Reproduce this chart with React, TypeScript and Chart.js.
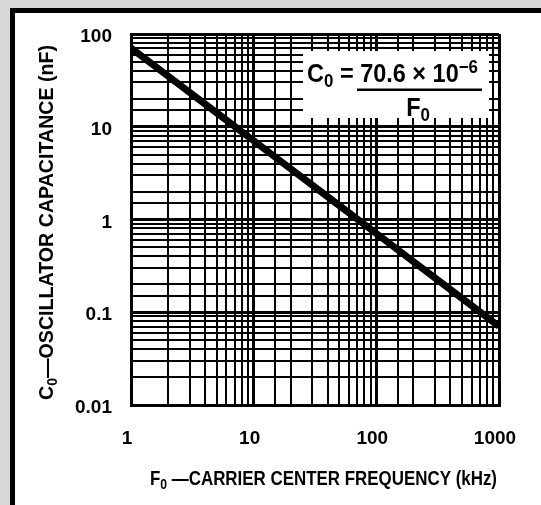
import React, { useEffect, useRef } from 'react';
import { Chart, registerables } from 'chart.js';

Chart.register(...registerables);

// ---- data ----
const frequencyKHz = [1, 2, 5, 10, 20, 50, 100, 200, 500, 1000];
const capacitanceNF = [70.6, 35.3, 14.1, 7.06, 3.53, 1.41, 0.706, 0.353, 0.141, 0.0706];

const xTickValues = [1, 10, 100, 1000];
const xTickLabels = ['1', '10', '100', '1000'];
const yTickValues = [0.01, 0.1, 1, 10, 100];
const yTickLabels = ['0.01', '0.1', '1', '10', '100'];

type Seg = { t: string; k?: 'sub' | 'sup' };
const xTitleSegs: Seg[] = [{ t: 'F' }, { t: '0', k: 'sub' }, { t: ' —CARRIER CENTER FREQUENCY (kHz)' }];
const yTitleSegs: Seg[] = [{ t: 'C' }, { t: '0', k: 'sub' }, { t: '—OSCILLATOR CAPACITANCE (nF)' }];
const formulaNumSegs: Seg[] = [{ t: 'C' }, { t: '0', k: 'sub' }, { t: ' = 70.6 × 10' }, { t: '−6', k: 'sup' }];
const formulaDenSegs: Seg[] = [{ t: 'F' }, { t: '0', k: 'sub' }];

const FONT = "'Liberation Sans', Arial, sans-serif";

function findLabel(values: number[], labels: string[], v: number): string {
  const i = values.findIndex((a) => Math.abs(a - v) / a < 1e-6);
  return i >= 0 ? labels[i] : '';
}

function segWidth(ctx: CanvasRenderingContext2D, segs: Seg[], size: number): number {
  let w = 0;
  for (const s of segs) {
    const fs = s.k ? size * 0.72 : size;
    ctx.font = `bold ${fs}px ${FONT}`;
    w += ctx.measureText(s.t).width;
  }
  return w;
}

// draws rich text compressed horizontally by factor f
function drawRich(
  ctx: CanvasRenderingContext2D,
  segs: Seg[],
  x: number,
  y: number,
  size: number,
  align: 'left' | 'center',
  f: number
) {
  const total = segWidth(ctx, segs, size) * f;
  const x0 = align === 'center' ? x - total / 2 : x;
  ctx.save();
  ctx.translate(x0, y);
  ctx.scale(f, 1);
  ctx.textAlign = 'left';
  ctx.textBaseline = 'alphabetic';
  ctx.fillStyle = '#000';
  let cx = 0;
  for (const s of segs) {
    const fs = s.k ? size * 0.72 : size;
    ctx.font = `bold ${fs}px ${FONT}`;
    const dy = s.k === 'sub' ? size * 0.2 : s.k === 'sup' ? -size * 0.38 : 0;
    ctx.fillText(s.t, cx, dy);
    cx += ctx.measureText(s.t).width;
  }
  ctx.restore();
}

const framePlugin = {
  id: 'frame',
  beforeDraw(chart: any) {
    const { ctx, width, height } = chart;
    ctx.save();
    ctx.fillStyle = '#d8d8d8';
    ctx.fillRect(0, 0, width, height);
    ctx.fillStyle = '#000';
    ctx.fillRect(10, 8, width - 10, height - 8);
    ctx.fillStyle = '#fff';
    ctx.fillRect(15, 13, width - 15, height - 13);
    ctx.restore();
  },
};

const annotationPlugin = {
  id: 'annot',
  afterDraw(chart: any) {
    const ctx: CanvasRenderingContext2D = chart.ctx;
    ctx.save();
    // formula box
    ctx.fillStyle = '#fff';
    ctx.fillRect(303, 51, 186, 67);
    const fSize = 25;
    const fNum = 171 / segWidth(ctx, formulaNumSegs, fSize);
    drawRich(ctx, formulaNumSegs, 307, 82, fSize, 'left', fNum);
    ctx.fillStyle = '#000';
    ctx.fillRect(357, 88.5, 125, 2.5);
    drawRich(ctx, formulaDenSegs, 418, 116, fSize, 'center', fNum);
    // axis titles
    const tSize = 20;
    const fx = 347 / segWidth(ctx, xTitleSegs, tSize);
    drawRich(ctx, xTitleSegs, 323.5, 485, tSize, 'center', fx);
    const fy = 355 / segWidth(ctx, yTitleSegs, tSize);
    ctx.translate(53, 222.5);
    ctx.rotate(-Math.PI / 2);
    drawRich(ctx, yTitleSegs, 0, 0, tSize, 'center', fy);
    ctx.restore();
  },
};

const isDecade = (v: number) => Math.abs(Math.log10(v) - Math.round(Math.log10(v))) < 1e-6;

export default function App() {
  const ref = useRef<HTMLCanvasElement>(null);
  useEffect(() => {
    if (!ref.current) return;
    const tickFont = { family: FONT, size: 19, weight: 'bold' as const };
    const chart = new Chart(ref.current, {
      type: 'line',
      data: {
        datasets: [
          {
            data: frequencyKHz.map((f, i) => ({ x: f, y: capacitanceNF[i] })),
            borderColor: '#000',
            borderWidth: 7,
            pointRadius: 0,
            tension: 0,
            fill: false,
          },
        ],
      },
      options: {
        animation: false,
        responsive: false,
        devicePixelRatio: 1,
        layout: { padding: { top: 34, right: 42, left: 0, bottom: 0 } },
        plugins: { legend: { display: false }, tooltip: { enabled: false }, title: { display: false } },
        scales: {
          x: {
            type: 'logarithmic',
            min: 1,
            max: 1000,
            afterFit: (s: any) => {
              s.height = 100;
              s.paddingLeft = 0;
              s.paddingRight = 0;
            },
            grid: {
              color: '#000',
              drawTicks: false,
              lineWidth: (c: any) => (c.tick && isDecade(c.tick.value) ? 3 : 2),
            },
            border: { display: true, color: '#000', width: 3 },
            ticks: {
              autoSkip: false,
              maxRotation: 0,
              padding: 22,
              labelOffset: -4,
              color: '#000',
              font: tickFont,
              callback: (v: any) => findLabel(xTickValues, xTickLabels, Number(v)),
            },
          },
          y: {
            type: 'logarithmic',
            min: 0.01,
            max: 100,
            afterFit: (s: any) => {
              s.width = 131;
              s.paddingTop = 0;
              s.paddingBottom = 0;
            },
            grid: {
              color: '#000',
              drawTicks: false,
              lineWidth: (c: any) => (c.tick && isDecade(c.tick.value) ? 3 : 2),
            },
            border: { display: true, color: '#000', width: 3 },
            ticks: {
              autoSkip: false,
              padding: 19,
              labelOffset: 3,
              color: '#000',
              font: tickFont,
              callback: (v: any) => findLabel(yTickValues, yTickLabels, Number(v)),
            },
          },
        },
      },
      plugins: [framePlugin, annotationPlugin],
    });
    return () => chart.destroy();
  }, []);
  return (
    <div style={{ position: 'fixed', left: 0, top: 0, width: 541, height: 505 }}>
      <canvas ref={ref} width={541} height={505} style={{ display: 'block' }} />
    </div>
  );
}
